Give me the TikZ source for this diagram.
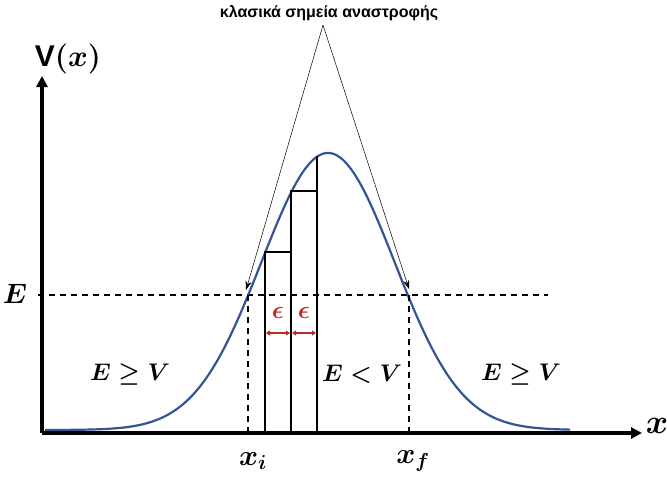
\RequirePackage{fix-cm}
\documentclass[tikz,border=0pt]{standalone}
\usepackage{fontspec}
\usepackage{amsmath, amssymb}
\usetikzlibrary{arrows.meta, positioning}
\newfontfamily\titlefont{Liberation Sans}
\definecolor{curveblue}{RGB}{52,84,150}
\definecolor{epsred}{RGB}{185,45,40}

\begin{document}
\begin{tikzpicture}[
    x=1pt, y=-1pt,
    axis/.style={line width=3.6pt, -{Triangle[length=11pt,width=11pt]}},
    guide/.style={dashed, line width=1.3pt, dash pattern=on 6pt off 5pt},
    strip/.style={line width=1.5pt},
    pointer/.style={line width=0.5pt, -{Stealth[length=9pt,width=6pt]}},
    gap/.style={epsred, line width=1.1pt, {Triangle[length=4pt,width=5pt]}-{Triangle[length=4pt,width=5pt]}},
    region/.style={font=\fontsize{24}{26}\selectfont\boldmath},
    tick/.style={font=\fontsize{29}{31}\selectfont\boldmath},
    epslab/.style={epsred, font=\fontsize{25}{27}\selectfont\boldmath}
]
\useasboundingbox (0,0) rectangle (667,479);

% axes
\coordinate (o) at (42,433);
\coordinate (ytop) at (42,76);
\coordinate (xend) at (642,433);
\draw[axis] (o) -- (ytop);
\draw[axis] (o) -- (xend);
\node[font=\fontsize{30}{32}\selectfont\boldmath] (vlab) at (68,59) {\titlefont\bfseries V\normalfont$(x)$};
\node[font=\fontsize{34}{36}\selectfont\boldmath] (xlab) at (657,426) {$x$};

% energy level
\node[region, font=\fontsize{28}{30}\selectfont\boldmath] (elab) at (15,294) {$E$};
\coordinate (estart) at (38,295);
\coordinate (eend) at (548,295);
\draw[guide] (estart) -- (eend);

% potential
\draw[curveblue, line width=2.2pt] plot[domain=45:570, samples=120, smooth]
    (\x, {430 - 277*exp(-((\x-328)/94.1)^2)});

% turning points
\coordinate (xi) at (248,295);
\coordinate (xf) at (409,295);
\coordinate (xib) at (248,433);
\coordinate (xfb) at (409,433);
\draw[guide] (xi) -- (xib);
\draw[guide] (xf) -- (xfb);
\node[tick] (xilab) at (253,461) {$x_i$};
\node[tick] (xflab) at (413,461) {$x_f$};

% strips
\draw[strip] (265,433) -- (265,252) -- (291,252);
\draw[strip] (291,433) -- (291,191) -- (317,191);
\draw[strip] (317,433) -- (317,156);
\draw[gap] (266,333) -- (290,333);
\draw[gap] (292,333) -- (316,333);
\node[epslab] (eps1) at (278,313) {$\epsilon$};
\node[epslab] (eps2) at (304,313) {$\epsilon$};

% regions
\node[region] (left) at (130,374) {$E \geq V$};
\node[region] (mid) at (362,374) {$E < V$};
\node[region] (right) at (521,374) {$E \geq V$};

% title and pointers
\node[font=\titlefont\bfseries\fontsize{16}{18}\selectfont] (title) at (329,13) {κλασικά σημεία αναστροφής};
\coordinate (apex) at (323,25);
\draw[pointer] (apex) -- (246,290);
\draw[pointer] (apex) -- (409,289);

\end{tikzpicture}
\end{document}
